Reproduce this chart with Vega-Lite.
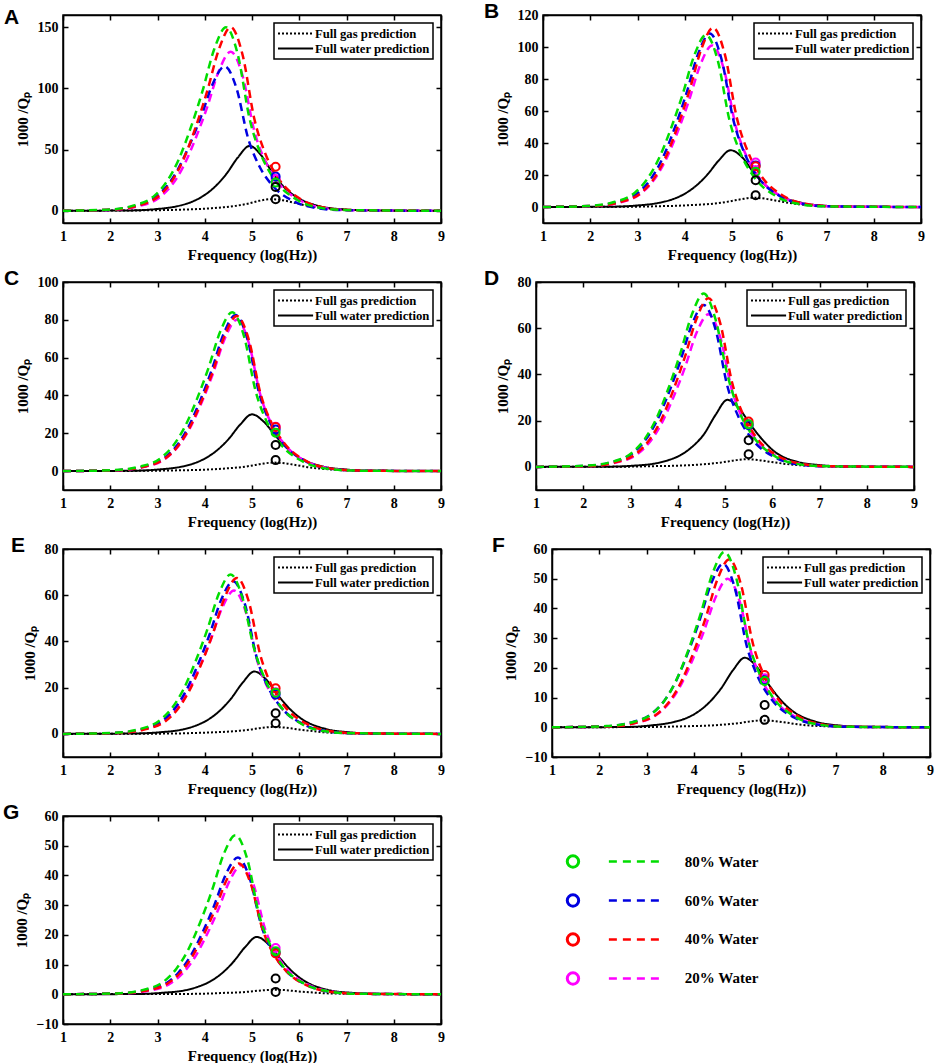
{
  "$schema": "https://vega.github.io/schema/vega-lite/v6.json",
  "background": "white",
  "padding": {"left": 2, "top": 0, "right": 4, "bottom": 0},
  "config": {
    "view": {"stroke": "black", "strokeWidth": 1.5},
    "axis": {"grid": false, "domainColor": "black", "domainWidth": 1.5, "tickColor": "black", "tickWidth": 1.5, "tickSize": -5, "labelFlush": false, "labelFont": "Liberation Serif", "labelFontWeight": "bold", "labelFontSize": 14, "labelColor": "black", "titleFont": "Liberation Serif", "titleFontWeight": "bold", "titleFontSize": 15, "titleColor": "black"},
    "axisX": {"labelPadding": 11, "titlePadding": 4},
    "axisY": {"labelPadding": 10, "titlePadding": 7},
    "legend": {"orient": "top-right", "offset": 8, "symbolStrokeColor": "black", "symbolStrokeWidth": 2, "symbolSize": 169, "labelFont": "Liberation Serif", "labelFontWeight": "bold", "labelFontSize": 12.7, "labelColor": "black", "labelOffset": 23, "labelLimit": 300, "strokeColor": "black", "strokeWidth": 1.5, "fillColor": "white", "padding": 3, "rowPadding": 0},
    "title": {"font": "Liberation Sans", "fontSize": 21, "fontWeight": "bold", "color": "black", "anchor": "start", "frame": "bounds", "offset": -10, "dy": 4, "dx": -11}
  },
  "datasets": {
    "curves": [
      {"p":"A","s":"gas","x":1,"y":0},{"p":"A","s":"gas","x":2.9,"y":0.4},{"p":"A","s":"gas","x":3.4,"y":0.8},{"p":"A","s":"gas","x":3.9,"y":1.5},{"p":"A","s":"gas","x":4.15,"y":2.1},{"p":"A","s":"gas","x":4.4,"y":2.9},{"p":"A","s":"gas","x":4.65,"y":4},{"p":"A","s":"gas","x":4.9,"y":5.7},{"p":"A","s":"gas","x":5.15,"y":8.1},{"p":"A","s":"gas","x":5.4,"y":9.5},{"p":"A","s":"gas","x":5.65,"y":8.6},{"p":"A","s":"gas","x":5.9,"y":6.5},{"p":"A","s":"gas","x":6.15,"y":4.3},{"p":"A","s":"gas","x":6.4,"y":2.7},{"p":"A","s":"gas","x":6.9,"y":1},{"p":"A","s":"gas","x":7.4,"y":0.4},{"p":"A","s":"gas","x":7.9,"y":0.1},{"p":"A","s":"gas","x":9,"y":0},
      {"p":"A","s":"water","x":1,"y":0},{"p":"A","s":"water","x":2.45,"y":0.3},{"p":"A","s":"water","x":2.95,"y":1.3},{"p":"A","s":"water","x":3.45,"y":4},{"p":"A","s":"water","x":3.7,"y":6.9},{"p":"A","s":"water","x":3.95,"y":11.7},{"p":"A","s":"water","x":4.2,"y":19.1},{"p":"A","s":"water","x":4.45,"y":29.7},{"p":"A","s":"water","x":4.7,"y":43.5},{"p":"A","s":"water","x":4.95,"y":53},{"p":"A","s":"water","x":5.2,"y":45},{"p":"A","s":"water","x":5.45,"y":30},{"p":"A","s":"water","x":5.7,"y":18.5},{"p":"A","s":"water","x":5.95,"y":11},{"p":"A","s":"water","x":6.45,"y":3.6},{"p":"A","s":"water","x":6.95,"y":1.1},{"p":"A","s":"water","x":7.45,"y":0.4},{"p":"A","s":"water","x":9,"y":0},
      {"p":"A","s":"20","x":1,"y":0},{"p":"A","s":"20","x":2.05,"y":0.8},{"p":"A","s":"20","x":2.55,"y":3.3},{"p":"A","s":"20","x":3.05,"y":11.1},{"p":"A","s":"20","x":3.3,"y":20.8},{"p":"A","s":"20","x":3.55,"y":36.4},{"p":"A","s":"20","x":3.8,"y":58.5},{"p":"A","s":"20","x":4.05,"y":84.5},{"p":"A","s":"20","x":4.3,"y":114.4},{"p":"A","s":"20","x":4.55,"y":130},{"p":"A","s":"20","x":4.8,"y":110.5},{"p":"A","s":"20","x":5.05,"y":65},{"p":"A","s":"20","x":5.3,"y":39},{"p":"A","s":"20","x":5.55,"y":23.4},{"p":"A","s":"20","x":6.05,"y":7.8},{"p":"A","s":"20","x":6.55,"y":2.1},{"p":"A","s":"20","x":7.05,"y":0.5},{"p":"A","s":"20","x":9,"y":0},
      {"p":"A","s":"60","x":1,"y":0},{"p":"A","s":"60","x":1.92,"y":0.7},{"p":"A","s":"60","x":2.42,"y":3},{"p":"A","s":"60","x":2.92,"y":10},{"p":"A","s":"60","x":3.17,"y":18.9},{"p":"A","s":"60","x":3.42,"y":33},{"p":"A","s":"60","x":3.67,"y":53.1},{"p":"A","s":"60","x":3.92,"y":76.7},{"p":"A","s":"60","x":4.17,"y":103.8},{"p":"A","s":"60","x":4.42,"y":118},{"p":"A","s":"60","x":4.67,"y":100.3},{"p":"A","s":"60","x":4.92,"y":59},{"p":"A","s":"60","x":5.17,"y":35.4},{"p":"A","s":"60","x":5.42,"y":21.2},{"p":"A","s":"60","x":5.92,"y":7.1},{"p":"A","s":"60","x":6.42,"y":1.9},{"p":"A","s":"60","x":6.92,"y":0.5},{"p":"A","s":"60","x":9,"y":0},
      {"p":"A","s":"40","x":1,"y":0},{"p":"A","s":"40","x":2.05,"y":0.9},{"p":"A","s":"40","x":2.55,"y":3.8},{"p":"A","s":"40","x":3.05,"y":12.8},{"p":"A","s":"40","x":3.3,"y":24},{"p":"A","s":"40","x":3.55,"y":42},{"p":"A","s":"40","x":3.8,"y":67.5},{"p":"A","s":"40","x":4.05,"y":97.5},{"p":"A","s":"40","x":4.3,"y":132},{"p":"A","s":"40","x":4.55,"y":150},{"p":"A","s":"40","x":4.8,"y":127.5},{"p":"A","s":"40","x":5.05,"y":75},{"p":"A","s":"40","x":5.3,"y":45},{"p":"A","s":"40","x":5.55,"y":27},{"p":"A","s":"40","x":6.05,"y":9},{"p":"A","s":"40","x":6.55,"y":2.4},{"p":"A","s":"40","x":7.05,"y":0.6},{"p":"A","s":"40","x":9,"y":0},
      {"p":"A","s":"80","x":1,"y":0},{"p":"A","s":"80","x":1.95,"y":0.9},{"p":"A","s":"80","x":2.45,"y":3.8},{"p":"A","s":"80","x":2.95,"y":12.8},{"p":"A","s":"80","x":3.2,"y":24},{"p":"A","s":"80","x":3.45,"y":42},{"p":"A","s":"80","x":3.7,"y":67.5},{"p":"A","s":"80","x":3.95,"y":97.5},{"p":"A","s":"80","x":4.2,"y":132},{"p":"A","s":"80","x":4.45,"y":150},{"p":"A","s":"80","x":4.7,"y":127.5},{"p":"A","s":"80","x":4.95,"y":75},{"p":"A","s":"80","x":5.2,"y":45},{"p":"A","s":"80","x":5.45,"y":27},{"p":"A","s":"80","x":5.95,"y":9},{"p":"A","s":"80","x":6.45,"y":2.4},{"p":"A","s":"80","x":6.95,"y":0.6},{"p":"A","s":"80","x":9,"y":0},

      {"p":"B","s":"gas","x":1,"y":0},{"p":"B","s":"gas","x":2.95,"y":0.2},{"p":"B","s":"gas","x":3.45,"y":0.5},{"p":"B","s":"gas","x":3.95,"y":0.9},{"p":"B","s":"gas","x":4.2,"y":1.3},{"p":"B","s":"gas","x":4.45,"y":1.7},{"p":"B","s":"gas","x":4.7,"y":2.4},{"p":"B","s":"gas","x":4.95,"y":3.5},{"p":"B","s":"gas","x":5.2,"y":4.9},{"p":"B","s":"gas","x":5.45,"y":5.8},{"p":"B","s":"gas","x":5.7,"y":5.2},{"p":"B","s":"gas","x":5.95,"y":3.9},{"p":"B","s":"gas","x":6.2,"y":2.6},{"p":"B","s":"gas","x":6.45,"y":1.6},{"p":"B","s":"gas","x":6.95,"y":0.6},{"p":"B","s":"gas","x":7.45,"y":0.2},{"p":"B","s":"gas","x":7.95,"y":0.1},{"p":"B","s":"gas","x":9,"y":0},
      {"p":"B","s":"water","x":1,"y":0},{"p":"B","s":"water","x":2.47,"y":0.2},{"p":"B","s":"water","x":2.97,"y":0.9},{"p":"B","s":"water","x":3.47,"y":2.7},{"p":"B","s":"water","x":3.72,"y":4.6},{"p":"B","s":"water","x":3.97,"y":7.8},{"p":"B","s":"water","x":4.22,"y":12.8},{"p":"B","s":"water","x":4.47,"y":19.9},{"p":"B","s":"water","x":4.72,"y":29.1},{"p":"B","s":"water","x":4.97,"y":35.5},{"p":"B","s":"water","x":5.22,"y":30.9},{"p":"B","s":"water","x":5.47,"y":21},{"p":"B","s":"water","x":5.72,"y":13.2},{"p":"B","s":"water","x":5.97,"y":7.8},{"p":"B","s":"water","x":6.47,"y":2.6},{"p":"B","s":"water","x":6.97,"y":0.8},{"p":"B","s":"water","x":7.47,"y":0.3},{"p":"B","s":"water","x":9,"y":0},
      {"p":"B","s":"20","x":1,"y":0},{"p":"B","s":"20","x":2.08,"y":0.6},{"p":"B","s":"20","x":2.58,"y":2.5},{"p":"B","s":"20","x":3.08,"y":8.6},{"p":"B","s":"20","x":3.33,"y":16.2},{"p":"B","s":"20","x":3.58,"y":28.3},{"p":"B","s":"20","x":3.83,"y":45.5},{"p":"B","s":"20","x":4.08,"y":65.7},{"p":"B","s":"20","x":4.33,"y":88.9},{"p":"B","s":"20","x":4.58,"y":101},{"p":"B","s":"20","x":4.83,"y":85.9},{"p":"B","s":"20","x":5.08,"y":50.5},{"p":"B","s":"20","x":5.33,"y":30.3},{"p":"B","s":"20","x":5.58,"y":18.2},{"p":"B","s":"20","x":6.08,"y":6.1},{"p":"B","s":"20","x":6.58,"y":1.6},{"p":"B","s":"20","x":7.08,"y":0.4},{"p":"B","s":"20","x":9,"y":0},
      {"p":"B","s":"60","x":1,"y":0},{"p":"B","s":"60","x":2.03,"y":0.7},{"p":"B","s":"60","x":2.53,"y":2.7},{"p":"B","s":"60","x":3.03,"y":9.2},{"p":"B","s":"60","x":3.28,"y":17.4},{"p":"B","s":"60","x":3.53,"y":30.4},{"p":"B","s":"60","x":3.78,"y":48.8},{"p":"B","s":"60","x":4.03,"y":70.5},{"p":"B","s":"60","x":4.28,"y":95.5},{"p":"B","s":"60","x":4.53,"y":108.5},{"p":"B","s":"60","x":4.78,"y":92.2},{"p":"B","s":"60","x":5.03,"y":54.3},{"p":"B","s":"60","x":5.28,"y":32.6},{"p":"B","s":"60","x":5.53,"y":19.5},{"p":"B","s":"60","x":6.03,"y":6.5},{"p":"B","s":"60","x":6.53,"y":1.7},{"p":"B","s":"60","x":7.03,"y":0.4},{"p":"B","s":"60","x":9,"y":0},
      {"p":"B","s":"40","x":1,"y":0},{"p":"B","s":"40","x":2.1,"y":0.7},{"p":"B","s":"40","x":2.6,"y":2.8},{"p":"B","s":"40","x":3.1,"y":9.5},{"p":"B","s":"40","x":3.35,"y":17.9},{"p":"B","s":"40","x":3.6,"y":31.4},{"p":"B","s":"40","x":3.85,"y":50.4},{"p":"B","s":"40","x":4.1,"y":72.8},{"p":"B","s":"40","x":4.35,"y":98.6},{"p":"B","s":"40","x":4.6,"y":112},{"p":"B","s":"40","x":4.85,"y":95.2},{"p":"B","s":"40","x":5.1,"y":56},{"p":"B","s":"40","x":5.35,"y":33.6},{"p":"B","s":"40","x":5.6,"y":20.2},{"p":"B","s":"40","x":6.1,"y":6.7},{"p":"B","s":"40","x":6.6,"y":1.8},{"p":"B","s":"40","x":7.1,"y":0.4},{"p":"B","s":"40","x":9,"y":0},
      {"p":"B","s":"80","x":1,"y":0},{"p":"B","s":"80","x":1.95,"y":0.6},{"p":"B","s":"80","x":2.45,"y":2.7},{"p":"B","s":"80","x":2.95,"y":9.1},{"p":"B","s":"80","x":3.2,"y":17.2},{"p":"B","s":"80","x":3.45,"y":30.1},{"p":"B","s":"80","x":3.7,"y":48.4},{"p":"B","s":"80","x":3.95,"y":69.9},{"p":"B","s":"80","x":4.2,"y":94.6},{"p":"B","s":"80","x":4.45,"y":107.5},{"p":"B","s":"80","x":4.7,"y":91.4},{"p":"B","s":"80","x":4.95,"y":53.8},{"p":"B","s":"80","x":5.2,"y":32.3},{"p":"B","s":"80","x":5.45,"y":19.4},{"p":"B","s":"80","x":5.95,"y":6.5},{"p":"B","s":"80","x":6.45,"y":1.7},{"p":"B","s":"80","x":6.95,"y":0.4},{"p":"B","s":"80","x":9,"y":0},

      {"p":"C","s":"gas","x":1,"y":0},{"p":"C","s":"gas","x":2.95,"y":0.2},{"p":"C","s":"gas","x":3.45,"y":0.4},{"p":"C","s":"gas","x":3.95,"y":0.7},{"p":"C","s":"gas","x":4.2,"y":1},{"p":"C","s":"gas","x":4.45,"y":1.4},{"p":"C","s":"gas","x":4.7,"y":1.9},{"p":"C","s":"gas","x":4.95,"y":2.7},{"p":"C","s":"gas","x":5.2,"y":3.8},{"p":"C","s":"gas","x":5.45,"y":4.5},{"p":"C","s":"gas","x":5.7,"y":4.1},{"p":"C","s":"gas","x":5.95,"y":3.1},{"p":"C","s":"gas","x":6.2,"y":2},{"p":"C","s":"gas","x":6.45,"y":1.3},{"p":"C","s":"gas","x":6.95,"y":0.5},{"p":"C","s":"gas","x":7.45,"y":0.2},{"p":"C","s":"gas","x":7.95,"y":0.1},{"p":"C","s":"gas","x":9,"y":0},
      {"p":"C","s":"water","x":1,"y":0},{"p":"C","s":"water","x":2.5,"y":0.2},{"p":"C","s":"water","x":3,"y":0.8},{"p":"C","s":"water","x":3.5,"y":2.3},{"p":"C","s":"water","x":3.75,"y":3.9},{"p":"C","s":"water","x":4,"y":6.6},{"p":"C","s":"water","x":4.25,"y":10.8},{"p":"C","s":"water","x":4.5,"y":16.8},{"p":"C","s":"water","x":4.75,"y":24.6},{"p":"C","s":"water","x":5,"y":30},{"p":"C","s":"water","x":5.25,"y":26.1},{"p":"C","s":"water","x":5.5,"y":18.6},{"p":"C","s":"water","x":5.75,"y":12},{"p":"C","s":"water","x":6,"y":7.2},{"p":"C","s":"water","x":6.5,"y":2.4},{"p":"C","s":"water","x":7,"y":0.8},{"p":"C","s":"water","x":7.5,"y":0.2},{"p":"C","s":"water","x":9,"y":0},
      {"p":"C","s":"20","x":1,"y":0},{"p":"C","s":"20","x":2.18,"y":0.5},{"p":"C","s":"20","x":2.68,"y":2},{"p":"C","s":"20","x":3.18,"y":6.8},{"p":"C","s":"20","x":3.43,"y":12.8},{"p":"C","s":"20","x":3.68,"y":22.4},{"p":"C","s":"20","x":3.93,"y":36},{"p":"C","s":"20","x":4.18,"y":52},{"p":"C","s":"20","x":4.43,"y":70.4},{"p":"C","s":"20","x":4.68,"y":80},{"p":"C","s":"20","x":4.93,"y":68},{"p":"C","s":"20","x":5.18,"y":40},{"p":"C","s":"20","x":5.43,"y":24},{"p":"C","s":"20","x":5.68,"y":14.4},{"p":"C","s":"20","x":6.18,"y":4.8},{"p":"C","s":"20","x":6.68,"y":1.3},{"p":"C","s":"20","x":7.18,"y":0.3},{"p":"C","s":"20","x":9,"y":0},
      {"p":"C","s":"60","x":1,"y":0},{"p":"C","s":"60","x":2.15,"y":0.5},{"p":"C","s":"60","x":2.65,"y":2.1},{"p":"C","s":"60","x":3.15,"y":7},{"p":"C","s":"60","x":3.4,"y":13.2},{"p":"C","s":"60","x":3.65,"y":23.1},{"p":"C","s":"60","x":3.9,"y":37.1},{"p":"C","s":"60","x":4.15,"y":53.6},{"p":"C","s":"60","x":4.4,"y":72.6},{"p":"C","s":"60","x":4.65,"y":82.5},{"p":"C","s":"60","x":4.9,"y":70.1},{"p":"C","s":"60","x":5.15,"y":41.3},{"p":"C","s":"60","x":5.4,"y":24.8},{"p":"C","s":"60","x":5.65,"y":14.9},{"p":"C","s":"60","x":6.15,"y":5},{"p":"C","s":"60","x":6.65,"y":1.3},{"p":"C","s":"60","x":7.15,"y":0.3},{"p":"C","s":"60","x":9,"y":0},
      {"p":"C","s":"40","x":1,"y":0},{"p":"C","s":"40","x":2.18,"y":0.5},{"p":"C","s":"40","x":2.68,"y":2.1},{"p":"C","s":"40","x":3.18,"y":7},{"p":"C","s":"40","x":3.43,"y":13.1},{"p":"C","s":"40","x":3.68,"y":23},{"p":"C","s":"40","x":3.93,"y":36.9},{"p":"C","s":"40","x":4.18,"y":53.3},{"p":"C","s":"40","x":4.43,"y":72.2},{"p":"C","s":"40","x":4.68,"y":82},{"p":"C","s":"40","x":4.93,"y":69.7},{"p":"C","s":"40","x":5.18,"y":41},{"p":"C","s":"40","x":5.43,"y":24.6},{"p":"C","s":"40","x":5.68,"y":14.8},{"p":"C","s":"40","x":6.18,"y":4.9},{"p":"C","s":"40","x":6.68,"y":1.3},{"p":"C","s":"40","x":7.18,"y":0.3},{"p":"C","s":"40","x":9,"y":0},
      {"p":"C","s":"80","x":1,"y":0},{"p":"C","s":"80","x":2.08,"y":0.5},{"p":"C","s":"80","x":2.58,"y":2.1},{"p":"C","s":"80","x":3.08,"y":7.1},{"p":"C","s":"80","x":3.33,"y":13.4},{"p":"C","s":"80","x":3.58,"y":23.5},{"p":"C","s":"80","x":3.83,"y":37.8},{"p":"C","s":"80","x":4.08,"y":54.6},{"p":"C","s":"80","x":4.33,"y":73.9},{"p":"C","s":"80","x":4.58,"y":84},{"p":"C","s":"80","x":4.83,"y":71.4},{"p":"C","s":"80","x":5.08,"y":42},{"p":"C","s":"80","x":5.33,"y":25.2},{"p":"C","s":"80","x":5.58,"y":15.1},{"p":"C","s":"80","x":6.08,"y":5},{"p":"C","s":"80","x":6.58,"y":1.3},{"p":"C","s":"80","x":7.08,"y":0.3},{"p":"C","s":"80","x":9,"y":0},

      {"p":"D","s":"gas","x":1,"y":0},{"p":"D","s":"gas","x":2.95,"y":0.1},{"p":"D","s":"gas","x":3.45,"y":0.3},{"p":"D","s":"gas","x":3.95,"y":0.5},{"p":"D","s":"gas","x":4.2,"y":0.7},{"p":"D","s":"gas","x":4.45,"y":1},{"p":"D","s":"gas","x":4.7,"y":1.4},{"p":"D","s":"gas","x":4.95,"y":2},{"p":"D","s":"gas","x":5.2,"y":2.8},{"p":"D","s":"gas","x":5.45,"y":3.3},{"p":"D","s":"gas","x":5.7,"y":3},{"p":"D","s":"gas","x":5.95,"y":2.2},{"p":"D","s":"gas","x":6.2,"y":1.5},{"p":"D","s":"gas","x":6.45,"y":0.9},{"p":"D","s":"gas","x":6.95,"y":0.4},{"p":"D","s":"gas","x":7.45,"y":0.1},{"p":"D","s":"gas","x":7.95,"y":0},{"p":"D","s":"gas","x":9,"y":0},
      {"p":"D","s":"water","x":1,"y":0},{"p":"D","s":"water","x":2.55,"y":0.1},{"p":"D","s":"water","x":3.05,"y":0.5},{"p":"D","s":"water","x":3.55,"y":1.6},{"p":"D","s":"water","x":3.8,"y":2.9},{"p":"D","s":"water","x":4.05,"y":5},{"p":"D","s":"water","x":4.3,"y":8.6},{"p":"D","s":"water","x":4.55,"y":14},{"p":"D","s":"water","x":4.8,"y":22.5},{"p":"D","s":"water","x":5.05,"y":29},{"p":"D","s":"water","x":5.3,"y":25.2},{"p":"D","s":"water","x":5.55,"y":18},{"p":"D","s":"water","x":5.8,"y":11.6},{"p":"D","s":"water","x":6.05,"y":6.6},{"p":"D","s":"water","x":6.55,"y":2.1},{"p":"D","s":"water","x":7.05,"y":0.7},{"p":"D","s":"water","x":7.55,"y":0.2},{"p":"D","s":"water","x":9,"y":0},
      {"p":"D","s":"20","x":1,"y":0},{"p":"D","s":"20","x":2.15,"y":0.4},{"p":"D","s":"20","x":2.65,"y":1.7},{"p":"D","s":"20","x":3.15,"y":5.6},{"p":"D","s":"20","x":3.4,"y":10.6},{"p":"D","s":"20","x":3.65,"y":18.5},{"p":"D","s":"20","x":3.9,"y":29.7},{"p":"D","s":"20","x":4.15,"y":42.9},{"p":"D","s":"20","x":4.4,"y":58.1},{"p":"D","s":"20","x":4.65,"y":66},{"p":"D","s":"20","x":4.9,"y":56.1},{"p":"D","s":"20","x":5.15,"y":33},{"p":"D","s":"20","x":5.4,"y":19.8},{"p":"D","s":"20","x":5.65,"y":11.9},{"p":"D","s":"20","x":6.15,"y":4},{"p":"D","s":"20","x":6.65,"y":1.1},{"p":"D","s":"20","x":7.15,"y":0.3},{"p":"D","s":"20","x":9,"y":0},
      {"p":"D","s":"60","x":1,"y":0},{"p":"D","s":"60","x":2.05,"y":0.4},{"p":"D","s":"60","x":2.55,"y":1.8},{"p":"D","s":"60","x":3.05,"y":6},{"p":"D","s":"60","x":3.3,"y":11.2},{"p":"D","s":"60","x":3.55,"y":19.6},{"p":"D","s":"60","x":3.8,"y":31.5},{"p":"D","s":"60","x":4.05,"y":45.5},{"p":"D","s":"60","x":4.3,"y":61.6},{"p":"D","s":"60","x":4.55,"y":70},{"p":"D","s":"60","x":4.8,"y":59.5},{"p":"D","s":"60","x":5.05,"y":35},{"p":"D","s":"60","x":5.3,"y":21},{"p":"D","s":"60","x":5.55,"y":12.6},{"p":"D","s":"60","x":6.05,"y":4.2},{"p":"D","s":"60","x":6.55,"y":1.1},{"p":"D","s":"60","x":7.05,"y":0.3},{"p":"D","s":"60","x":9,"y":0},
      {"p":"D","s":"40","x":1,"y":0},{"p":"D","s":"40","x":2.15,"y":0.4},{"p":"D","s":"40","x":2.65,"y":1.8},{"p":"D","s":"40","x":3.15,"y":6.2},{"p":"D","s":"40","x":3.4,"y":11.7},{"p":"D","s":"40","x":3.65,"y":20.4},{"p":"D","s":"40","x":3.9,"y":32.9},{"p":"D","s":"40","x":4.15,"y":47.5},{"p":"D","s":"40","x":4.4,"y":64.2},{"p":"D","s":"40","x":4.65,"y":73},{"p":"D","s":"40","x":4.9,"y":62.1},{"p":"D","s":"40","x":5.15,"y":36.5},{"p":"D","s":"40","x":5.4,"y":21.9},{"p":"D","s":"40","x":5.65,"y":13.1},{"p":"D","s":"40","x":6.15,"y":4.4},{"p":"D","s":"40","x":6.65,"y":1.2},{"p":"D","s":"40","x":7.15,"y":0.3},{"p":"D","s":"40","x":9,"y":0},
      {"p":"D","s":"80","x":1,"y":0},{"p":"D","s":"80","x":2.05,"y":0.5},{"p":"D","s":"80","x":2.55,"y":1.9},{"p":"D","s":"80","x":3.05,"y":6.4},{"p":"D","s":"80","x":3.3,"y":12},{"p":"D","s":"80","x":3.55,"y":21},{"p":"D","s":"80","x":3.8,"y":33.8},{"p":"D","s":"80","x":4.05,"y":48.8},{"p":"D","s":"80","x":4.3,"y":66},{"p":"D","s":"80","x":4.55,"y":75},{"p":"D","s":"80","x":4.8,"y":63.8},{"p":"D","s":"80","x":5.05,"y":40},{"p":"D","s":"80","x":5.3,"y":24},{"p":"D","s":"80","x":5.55,"y":14.5},{"p":"D","s":"80","x":6.05,"y":4.7},{"p":"D","s":"80","x":6.55,"y":1.2},{"p":"D","s":"80","x":7.05,"y":0.3},{"p":"D","s":"80","x":9,"y":0},

      {"p":"E","s":"gas","x":1,"y":0},{"p":"E","s":"gas","x":2.95,"y":0.1},{"p":"E","s":"gas","x":3.45,"y":0.2},{"p":"E","s":"gas","x":3.95,"y":0.5},{"p":"E","s":"gas","x":4.2,"y":0.7},{"p":"E","s":"gas","x":4.45,"y":0.9},{"p":"E","s":"gas","x":4.7,"y":1.3},{"p":"E","s":"gas","x":4.95,"y":1.8},{"p":"E","s":"gas","x":5.2,"y":2.6},{"p":"E","s":"gas","x":5.45,"y":3},{"p":"E","s":"gas","x":5.7,"y":2.7},{"p":"E","s":"gas","x":5.95,"y":2},{"p":"E","s":"gas","x":6.2,"y":1.4},{"p":"E","s":"gas","x":6.45,"y":0.8},{"p":"E","s":"gas","x":6.95,"y":0.3},{"p":"E","s":"gas","x":7.45,"y":0.1},{"p":"E","s":"gas","x":7.95,"y":0},{"p":"E","s":"gas","x":9,"y":0},
      {"p":"E","s":"water","x":1,"y":0},{"p":"E","s":"water","x":2.55,"y":0.2},{"p":"E","s":"water","x":3.05,"y":0.7},{"p":"E","s":"water","x":3.55,"y":2},{"p":"E","s":"water","x":3.8,"y":3.5},{"p":"E","s":"water","x":4.05,"y":5.9},{"p":"E","s":"water","x":4.3,"y":9.7},{"p":"E","s":"water","x":4.55,"y":15.1},{"p":"E","s":"water","x":4.8,"y":22.1},{"p":"E","s":"water","x":5.05,"y":27},{"p":"E","s":"water","x":5.3,"y":23.5},{"p":"E","s":"water","x":5.55,"y":16.7},{"p":"E","s":"water","x":5.8,"y":10.8},{"p":"E","s":"water","x":6.05,"y":6.5},{"p":"E","s":"water","x":6.55,"y":2.2},{"p":"E","s":"water","x":7.05,"y":0.7},{"p":"E","s":"water","x":7.55,"y":0.2},{"p":"E","s":"water","x":9,"y":0},
      {"p":"E","s":"20","x":1,"y":0},{"p":"E","s":"20","x":2.12,"y":0.4},{"p":"E","s":"20","x":2.62,"y":1.6},{"p":"E","s":"20","x":3.12,"y":5.3},{"p":"E","s":"20","x":3.37,"y":9.9},{"p":"E","s":"20","x":3.62,"y":17.4},{"p":"E","s":"20","x":3.87,"y":27.9},{"p":"E","s":"20","x":4.12,"y":40.3},{"p":"E","s":"20","x":4.37,"y":54.6},{"p":"E","s":"20","x":4.62,"y":62},{"p":"E","s":"20","x":4.87,"y":52.7},{"p":"E","s":"20","x":5.12,"y":31},{"p":"E","s":"20","x":5.37,"y":18.6},{"p":"E","s":"20","x":5.62,"y":11.2},{"p":"E","s":"20","x":6.12,"y":3.7},{"p":"E","s":"20","x":6.62,"y":1},{"p":"E","s":"20","x":7.12,"y":0.2},{"p":"E","s":"20","x":9,"y":0},
      {"p":"E","s":"60","x":1,"y":0},{"p":"E","s":"60","x":2.1,"y":0.4},{"p":"E","s":"60","x":2.6,"y":1.7},{"p":"E","s":"60","x":3.1,"y":5.6},{"p":"E","s":"60","x":3.35,"y":10.6},{"p":"E","s":"60","x":3.6,"y":18.5},{"p":"E","s":"60","x":3.85,"y":29.7},{"p":"E","s":"60","x":4.1,"y":42.9},{"p":"E","s":"60","x":4.35,"y":58.1},{"p":"E","s":"60","x":4.6,"y":66},{"p":"E","s":"60","x":4.85,"y":56.1},{"p":"E","s":"60","x":5.1,"y":33},{"p":"E","s":"60","x":5.35,"y":19.8},{"p":"E","s":"60","x":5.6,"y":11.9},{"p":"E","s":"60","x":6.1,"y":4},{"p":"E","s":"60","x":6.6,"y":1.1},{"p":"E","s":"60","x":7.1,"y":0.3},{"p":"E","s":"60","x":9,"y":0},
      {"p":"E","s":"40","x":1,"y":0},{"p":"E","s":"40","x":2.18,"y":0.4},{"p":"E","s":"40","x":2.68,"y":1.7},{"p":"E","s":"40","x":3.18,"y":5.7},{"p":"E","s":"40","x":3.43,"y":10.8},{"p":"E","s":"40","x":3.68,"y":18.9},{"p":"E","s":"40","x":3.93,"y":30.4},{"p":"E","s":"40","x":4.18,"y":43.9},{"p":"E","s":"40","x":4.43,"y":59.4},{"p":"E","s":"40","x":4.68,"y":67.5},{"p":"E","s":"40","x":4.93,"y":57.4},{"p":"E","s":"40","x":5.18,"y":33.8},{"p":"E","s":"40","x":5.43,"y":20.3},{"p":"E","s":"40","x":5.68,"y":12.2},{"p":"E","s":"40","x":6.18,"y":4.1},{"p":"E","s":"40","x":6.68,"y":1.1},{"p":"E","s":"40","x":7.18,"y":0.3},{"p":"E","s":"40","x":9,"y":0},
      {"p":"E","s":"80","x":1,"y":0},{"p":"E","s":"80","x":2.05,"y":0.4},{"p":"E","s":"80","x":2.55,"y":1.7},{"p":"E","s":"80","x":3.05,"y":5.9},{"p":"E","s":"80","x":3.3,"y":11},{"p":"E","s":"80","x":3.55,"y":19.3},{"p":"E","s":"80","x":3.8,"y":31.1},{"p":"E","s":"80","x":4.05,"y":44.9},{"p":"E","s":"80","x":4.3,"y":60.7},{"p":"E","s":"80","x":4.55,"y":69},{"p":"E","s":"80","x":4.8,"y":58.7},{"p":"E","s":"80","x":5.05,"y":36.5},{"p":"E","s":"80","x":5.3,"y":22.5},{"p":"E","s":"80","x":5.55,"y":13.4},{"p":"E","s":"80","x":6.05,"y":4.3},{"p":"E","s":"80","x":6.55,"y":1.1},{"p":"E","s":"80","x":7.05,"y":0.3},{"p":"E","s":"80","x":9,"y":0},

      {"p":"F","s":"gas","x":1,"y":0},{"p":"F","s":"gas","x":2.95,"y":0.1},{"p":"F","s":"gas","x":3.45,"y":0.2},{"p":"F","s":"gas","x":3.95,"y":0.4},{"p":"F","s":"gas","x":4.2,"y":0.5},{"p":"F","s":"gas","x":4.45,"y":0.7},{"p":"F","s":"gas","x":4.7,"y":1},{"p":"F","s":"gas","x":4.95,"y":1.4},{"p":"F","s":"gas","x":5.2,"y":2},{"p":"F","s":"gas","x":5.45,"y":2.3},{"p":"F","s":"gas","x":5.7,"y":2.1},{"p":"F","s":"gas","x":5.95,"y":1.6},{"p":"F","s":"gas","x":6.2,"y":1},{"p":"F","s":"gas","x":6.45,"y":0.6},{"p":"F","s":"gas","x":6.95,"y":0.3},{"p":"F","s":"gas","x":7.45,"y":0.1},{"p":"F","s":"gas","x":7.95,"y":0},{"p":"F","s":"gas","x":9,"y":0},
      {"p":"F","s":"water","x":1,"y":0},{"p":"F","s":"water","x":2.58,"y":0.1},{"p":"F","s":"water","x":3.08,"y":0.6},{"p":"F","s":"water","x":3.58,"y":1.8},{"p":"F","s":"water","x":3.83,"y":3},{"p":"F","s":"water","x":4.08,"y":5.1},{"p":"F","s":"water","x":4.33,"y":8.4},{"p":"F","s":"water","x":4.58,"y":13.1},{"p":"F","s":"water","x":4.83,"y":19.2},{"p":"F","s":"water","x":5.08,"y":23.4},{"p":"F","s":"water","x":5.33,"y":20.4},{"p":"F","s":"water","x":5.58,"y":14.5},{"p":"F","s":"water","x":5.83,"y":9.4},{"p":"F","s":"water","x":6.08,"y":5.6},{"p":"F","s":"water","x":6.58,"y":1.9},{"p":"F","s":"water","x":7.08,"y":0.6},{"p":"F","s":"water","x":7.58,"y":0.2},{"p":"F","s":"water","x":9,"y":0},
      {"p":"F","s":"20","x":1,"y":0},{"p":"F","s":"20","x":2.22,"y":0.3},{"p":"F","s":"20","x":2.72,"y":1.3},{"p":"F","s":"20","x":3.22,"y":4.3},{"p":"F","s":"20","x":3.47,"y":8},{"p":"F","s":"20","x":3.72,"y":14},{"p":"F","s":"20","x":3.97,"y":22.5},{"p":"F","s":"20","x":4.22,"y":32.5},{"p":"F","s":"20","x":4.47,"y":44},{"p":"F","s":"20","x":4.72,"y":50},{"p":"F","s":"20","x":4.97,"y":42.5},{"p":"F","s":"20","x":5.22,"y":25},{"p":"F","s":"20","x":5.47,"y":15},{"p":"F","s":"20","x":5.72,"y":9},{"p":"F","s":"20","x":6.22,"y":3},{"p":"F","s":"20","x":6.72,"y":0.8},{"p":"F","s":"20","x":7.22,"y":0.2},{"p":"F","s":"20","x":9,"y":0},
      {"p":"F","s":"60","x":1,"y":0},{"p":"F","s":"60","x":2.12,"y":0.3},{"p":"F","s":"60","x":2.62,"y":1.4},{"p":"F","s":"60","x":3.12,"y":4.7},{"p":"F","s":"60","x":3.37,"y":8.8},{"p":"F","s":"60","x":3.62,"y":15.4},{"p":"F","s":"60","x":3.87,"y":24.8},{"p":"F","s":"60","x":4.12,"y":35.8},{"p":"F","s":"60","x":4.37,"y":48.4},{"p":"F","s":"60","x":4.62,"y":55},{"p":"F","s":"60","x":4.87,"y":46.8},{"p":"F","s":"60","x":5.12,"y":27.5},{"p":"F","s":"60","x":5.37,"y":16.5},{"p":"F","s":"60","x":5.62,"y":9.9},{"p":"F","s":"60","x":6.12,"y":3.3},{"p":"F","s":"60","x":6.62,"y":0.9},{"p":"F","s":"60","x":7.12,"y":0.2},{"p":"F","s":"60","x":9,"y":0},
      {"p":"F","s":"40","x":1,"y":0},{"p":"F","s":"40","x":2.25,"y":0.3},{"p":"F","s":"40","x":2.75,"y":1.4},{"p":"F","s":"40","x":3.25,"y":4.8},{"p":"F","s":"40","x":3.5,"y":9},{"p":"F","s":"40","x":3.75,"y":15.8},{"p":"F","s":"40","x":4,"y":25.4},{"p":"F","s":"40","x":4.25,"y":36.7},{"p":"F","s":"40","x":4.5,"y":49.7},{"p":"F","s":"40","x":4.75,"y":56.5},{"p":"F","s":"40","x":5,"y":48},{"p":"F","s":"40","x":5.25,"y":28.3},{"p":"F","s":"40","x":5.5,"y":17},{"p":"F","s":"40","x":5.75,"y":10.2},{"p":"F","s":"40","x":6.25,"y":3.4},{"p":"F","s":"40","x":6.75,"y":0.9},{"p":"F","s":"40","x":7.25,"y":0.2},{"p":"F","s":"40","x":9,"y":0},
      {"p":"F","s":"80","x":1,"y":0},{"p":"F","s":"80","x":2.15,"y":0.4},{"p":"F","s":"80","x":2.65,"y":1.5},{"p":"F","s":"80","x":3.15,"y":5},{"p":"F","s":"80","x":3.4,"y":9.4},{"p":"F","s":"80","x":3.65,"y":16.5},{"p":"F","s":"80","x":3.9,"y":26.6},{"p":"F","s":"80","x":4.15,"y":38.4},{"p":"F","s":"80","x":4.4,"y":51.9},{"p":"F","s":"80","x":4.65,"y":59},{"p":"F","s":"80","x":4.9,"y":50.2},{"p":"F","s":"80","x":5.15,"y":29.5},{"p":"F","s":"80","x":5.4,"y":17.7},{"p":"F","s":"80","x":5.65,"y":10.6},{"p":"F","s":"80","x":6.15,"y":3.5},{"p":"F","s":"80","x":6.65,"y":0.9},{"p":"F","s":"80","x":7.15,"y":0.2},{"p":"F","s":"80","x":9,"y":0},

      {"p":"G","s":"gas","x":1,"y":0},{"p":"G","s":"gas","x":2.95,"y":0.1},{"p":"G","s":"gas","x":3.45,"y":0.1},{"p":"G","s":"gas","x":3.95,"y":0.2},{"p":"G","s":"gas","x":4.2,"y":0.3},{"p":"G","s":"gas","x":4.45,"y":0.5},{"p":"G","s":"gas","x":4.7,"y":0.6},{"p":"G","s":"gas","x":4.95,"y":0.9},{"p":"G","s":"gas","x":5.2,"y":1.3},{"p":"G","s":"gas","x":5.45,"y":1.5},{"p":"G","s":"gas","x":5.7,"y":1.4},{"p":"G","s":"gas","x":5.95,"y":1},{"p":"G","s":"gas","x":6.2,"y":0.7},{"p":"G","s":"gas","x":6.45,"y":0.4},{"p":"G","s":"gas","x":6.95,"y":0.2},{"p":"G","s":"gas","x":7.45,"y":0.1},{"p":"G","s":"gas","x":7.95,"y":0},{"p":"G","s":"gas","x":9,"y":0},
      {"p":"G","s":"water","x":1,"y":0},{"p":"G","s":"water","x":2.6,"y":0.1},{"p":"G","s":"water","x":3.1,"y":0.5},{"p":"G","s":"water","x":3.6,"y":1.4},{"p":"G","s":"water","x":3.85,"y":2.5},{"p":"G","s":"water","x":4.1,"y":4.2},{"p":"G","s":"water","x":4.35,"y":6.9},{"p":"G","s":"water","x":4.6,"y":10.8},{"p":"G","s":"water","x":4.85,"y":15.8},{"p":"G","s":"water","x":5.1,"y":19.3},{"p":"G","s":"water","x":5.35,"y":16.8},{"p":"G","s":"water","x":5.6,"y":12},{"p":"G","s":"water","x":5.85,"y":7.7},{"p":"G","s":"water","x":6.1,"y":4.6},{"p":"G","s":"water","x":6.6,"y":1.5},{"p":"G","s":"water","x":7.1,"y":0.5},{"p":"G","s":"water","x":7.6,"y":0.2},{"p":"G","s":"water","x":9,"y":0},
      {"p":"G","s":"20","x":1,"y":0},{"p":"G","s":"20","x":2.28,"y":0.3},{"p":"G","s":"20","x":2.78,"y":1.1},{"p":"G","s":"20","x":3.28,"y":3.7},{"p":"G","s":"20","x":3.53,"y":7},{"p":"G","s":"20","x":3.78,"y":12.2},{"p":"G","s":"20","x":4.03,"y":19.6},{"p":"G","s":"20","x":4.28,"y":28.3},{"p":"G","s":"20","x":4.53,"y":38.3},{"p":"G","s":"20","x":4.78,"y":43.5},{"p":"G","s":"20","x":5.03,"y":37},{"p":"G","s":"20","x":5.28,"y":21.8},{"p":"G","s":"20","x":5.53,"y":13.1},{"p":"G","s":"20","x":5.78,"y":7.8},{"p":"G","s":"20","x":6.28,"y":2.6},{"p":"G","s":"20","x":6.78,"y":0.7},{"p":"G","s":"20","x":7.28,"y":0.2},{"p":"G","s":"20","x":9,"y":0},
      {"p":"G","s":"60","x":1,"y":0},{"p":"G","s":"60","x":2.2,"y":0.3},{"p":"G","s":"60","x":2.7,"y":1.2},{"p":"G","s":"60","x":3.2,"y":3.9},{"p":"G","s":"60","x":3.45,"y":7.4},{"p":"G","s":"60","x":3.7,"y":12.9},{"p":"G","s":"60","x":3.95,"y":20.7},{"p":"G","s":"60","x":4.2,"y":29.9},{"p":"G","s":"60","x":4.45,"y":40.5},{"p":"G","s":"60","x":4.7,"y":46},{"p":"G","s":"60","x":4.95,"y":39.1},{"p":"G","s":"60","x":5.2,"y":23},{"p":"G","s":"60","x":5.45,"y":13.8},{"p":"G","s":"60","x":5.7,"y":8.3},{"p":"G","s":"60","x":6.2,"y":2.8},{"p":"G","s":"60","x":6.7,"y":0.7},{"p":"G","s":"60","x":7.2,"y":0.2},{"p":"G","s":"60","x":9,"y":0},
      {"p":"G","s":"40","x":1,"y":0},{"p":"G","s":"40","x":2.22,"y":0.3},{"p":"G","s":"40","x":2.72,"y":1.1},{"p":"G","s":"40","x":3.22,"y":3.7},{"p":"G","s":"40","x":3.47,"y":7},{"p":"G","s":"40","x":3.72,"y":12.3},{"p":"G","s":"40","x":3.97,"y":19.8},{"p":"G","s":"40","x":4.22,"y":28.6},{"p":"G","s":"40","x":4.47,"y":38.7},{"p":"G","s":"40","x":4.72,"y":44},{"p":"G","s":"40","x":4.97,"y":37.4},{"p":"G","s":"40","x":5.22,"y":22},{"p":"G","s":"40","x":5.47,"y":13.2},{"p":"G","s":"40","x":5.72,"y":7.9},{"p":"G","s":"40","x":6.22,"y":2.6},{"p":"G","s":"40","x":6.72,"y":0.7},{"p":"G","s":"40","x":7.22,"y":0.2},{"p":"G","s":"40","x":9,"y":0},
      {"p":"G","s":"80","x":1,"y":0},{"p":"G","s":"80","x":2.15,"y":0.3},{"p":"G","s":"80","x":2.65,"y":1.3},{"p":"G","s":"80","x":3.15,"y":4.5},{"p":"G","s":"80","x":3.4,"y":8.6},{"p":"G","s":"80","x":3.65,"y":15},{"p":"G","s":"80","x":3.9,"y":24.1},{"p":"G","s":"80","x":4.15,"y":34.8},{"p":"G","s":"80","x":4.4,"y":47.1},{"p":"G","s":"80","x":4.65,"y":53.5},{"p":"G","s":"80","x":4.9,"y":45.5},{"p":"G","s":"80","x":5.15,"y":26.8},{"p":"G","s":"80","x":5.4,"y":16.1},{"p":"G","s":"80","x":5.65,"y":9.6},{"p":"G","s":"80","x":6.15,"y":3.2},{"p":"G","s":"80","x":6.65,"y":0.9},{"p":"G","s":"80","x":7.15,"y":0.2},{"p":"G","s":"80","x":9,"y":0}
    ],
    "obs": [
      {"p":"A","s":"20","x":5.5,"y":26},{"p":"A","s":"60","x":5.5,"y":28},{"p":"A","s":"40","x":5.5,"y":36},{"p":"A","s":"80","x":5.5,"y":23},{"p":"A","s":"water","x":5.5,"y":19.5},{"p":"A","s":"gas","x":5.5,"y":9.5},
      {"p":"B","s":"20","x":5.5,"y":27.8},{"p":"B","s":"60","x":5.5,"y":26},{"p":"B","s":"40","x":5.5,"y":25.5},{"p":"B","s":"80","x":5.5,"y":22},{"p":"B","s":"water","x":5.5,"y":16.7},{"p":"B","s":"gas","x":5.5,"y":7.3},
      {"p":"C","s":"20","x":5.5,"y":23.5},{"p":"C","s":"60","x":5.5,"y":22},{"p":"C","s":"40","x":5.5,"y":23.3},{"p":"C","s":"80","x":5.5,"y":20.3},{"p":"C","s":"water","x":5.5,"y":13.8},{"p":"C","s":"gas","x":5.5,"y":5.8},
      {"p":"D","s":"20","x":5.5,"y":18.5},{"p":"D","s":"60","x":5.5,"y":18},{"p":"D","s":"40","x":5.5,"y":19.6},{"p":"D","s":"80","x":5.5,"y":18.4},{"p":"D","s":"water","x":5.5,"y":11.5},{"p":"D","s":"gas","x":5.5,"y":5.5},
      {"p":"E","s":"20","x":5.5,"y":18},{"p":"E","s":"60","x":5.5,"y":17},{"p":"E","s":"40","x":5.5,"y":19.7},{"p":"E","s":"80","x":5.5,"y":17.8},{"p":"E","s":"water","x":5.5,"y":8.9},{"p":"E","s":"gas","x":5.5,"y":4.6},
      {"p":"F","s":"20","x":5.5,"y":16.5},{"p":"F","s":"60","x":5.5,"y":15.8},{"p":"F","s":"40","x":5.5,"y":17.6},{"p":"F","s":"80","x":5.5,"y":15.6},{"p":"F","s":"water","x":5.5,"y":7.5},{"p":"F","s":"gas","x":5.5,"y":2.5},
      {"p":"G","s":"20","x":5.5,"y":15.6},{"p":"G","s":"60","x":5.5,"y":14},{"p":"G","s":"40","x":5.5,"y":13.7},{"p":"G","s":"80","x":5.5,"y":14.5},{"p":"G","s":"water","x":5.5,"y":5.3},{"p":"G","s":"gas","x":5.5,"y":0.8}
    ],
    "key": [
      {"s":"80","label":"80% Water"},{"s":"60","label":"60% Water"},{"s":"40","label":"40% Water"},{"s":"20","label":"20% Water"}
    ]
  },
  "resolve": {"scale": {"strokeDash": "independent"}, "legend": {"strokeDash": "independent"}},
  "spacing": 4,
  "vconcat": [
    {
      "spacing": 36,
      "resolve": {"scale": {"strokeDash": "independent"}, "legend": {"strokeDash": "independent"}},
      "hconcat": [
        {
          "width": 378, "height": 208, "title": {"text": "A"},
          "resolve": {"axis": {"x": "independent", "y": "independent"}},
          "layer": [
            {"data": {"name": "curves"}, "transform": [{"filter": {"and": [{"field": "p", "equal": "A"}, {"field": "s", "oneOf": ["gas", "water"]}]}}],
             "mark": {"type": "line", "color": "black", "strokeWidth": 2, "interpolate": "monotone"},
             "encoding": {
               "x": {"field": "x", "type": "quantitative", "scale": {"domain": [1, 9], "nice": false}, "axis": {"title": "Frequency (log(Hz))", "values": [1,2,3,4,5,6,7,8,9]}},
               "y": {"field": "y", "type": "quantitative", "scale": {"domain": [-10, 160], "nice": false}, "axis": {"title": "1000 /Qₚ", "values": [0,50,100,150]}},
               "strokeDash": {"field": "s", "type": "nominal", "scale": {"domain": ["gas", "water"], "range": [[2,2],[1,0]]}, "legend": {"title": null, "symbolType": "M-1,0H4.4", "labelExpr": "datum.label == 'gas' ? 'Full gas prediction' : 'Full water prediction'"}}}},
            {"data": {"name": "curves"}, "transform": [{"filter": {"and": [{"field": "p", "equal": "A"}, {"field": "s", "oneOf": ["20", "60", "40", "80"]}]}}],
             "mark": {"type": "line", "strokeWidth": 2.5, "strokeDash": [8,5], "interpolate": "monotone"},
             "encoding": {
               "x": {"field": "x", "type": "quantitative", "scale": {"domain": [1, 9], "nice": false}, "axis": null},
               "y": {"field": "y", "type": "quantitative", "scale": {"domain": [-10, 160], "nice": false}, "axis": null},
               "color": {"field": "s", "type": "nominal", "scale": {"domain": ["gas","water","80","60","40","20"], "range": ["#000000","#000000","#00dd00","#0000e0","#ff0000","#ff00ff"]}, "legend": null}}},
            {"data": {"name": "obs"}, "transform": [{"filter": {"field": "p", "equal": "A"}}],
             "mark": {"type": "point", "shape": "circle", "filled": false, "size": 64, "strokeWidth": 2, "opacity": 1},
             "encoding": {
               "x": {"field": "x", "type": "quantitative", "scale": {"domain": [1, 9], "nice": false}, "axis": null},
               "y": {"field": "y", "type": "quantitative", "scale": {"domain": [-10, 160], "nice": false}, "axis": null},
               "color": {"field": "s", "type": "nominal", "scale": {"domain": ["gas","water","80","60","40","20"], "range": ["#000000","#000000","#00dd00","#0000e0","#ff0000","#ff00ff"]}, "legend": null}}},
            {"data": {"name": "obs"}, "transform": [{"filter": {"field": "p", "equal": "A"}}],
             "mark": {"type": "point", "opacity": 0},
             "encoding": {
               "x": {"field": "x", "type": "quantitative", "scale": {"domain": [1, 9], "nice": false}, "axis": {"orient": "top", "labels": false, "title": null, "values": [1,2,3,4,5,6,7,8,9]}},
               "y": {"field": "y", "type": "quantitative", "scale": {"domain": [-10, 160], "nice": false}, "axis": {"orient": "right", "labels": false, "title": null, "values": [0,50,100,150]}}}}
          ]
        },
        {
          "width": 378, "height": 208, "title": {"text": "B"},
          "resolve": {"axis": {"x": "independent", "y": "independent"}},
          "layer": [
            {"data": {"name": "curves"}, "transform": [{"filter": {"and": [{"field": "p", "equal": "B"}, {"field": "s", "oneOf": ["gas", "water"]}]}}],
             "mark": {"type": "line", "color": "black", "strokeWidth": 2, "interpolate": "monotone"},
             "encoding": {
               "x": {"field": "x", "type": "quantitative", "scale": {"domain": [1, 9], "nice": false}, "axis": {"title": "Frequency (log(Hz))", "values": [1,2,3,4,5,6,7,8,9]}},
               "y": {"field": "y", "type": "quantitative", "scale": {"domain": [-10, 120], "nice": false}, "axis": {"title": "1000 /Qₚ", "values": [0,20,40,60,80,100,120]}},
               "strokeDash": {"field": "s", "type": "nominal", "scale": {"domain": ["gas", "water"], "range": [[2,2],[1,0]]}, "legend": {"title": null, "symbolType": "M-1,0H4.4", "labelExpr": "datum.label == 'gas' ? 'Full gas prediction' : 'Full water prediction'"}}}},
            {"data": {"name": "curves"}, "transform": [{"filter": {"and": [{"field": "p", "equal": "B"}, {"field": "s", "oneOf": ["20", "60", "40", "80"]}]}}],
             "mark": {"type": "line", "strokeWidth": 2.5, "strokeDash": [8,5], "interpolate": "monotone"},
             "encoding": {
               "x": {"field": "x", "type": "quantitative", "scale": {"domain": [1, 9], "nice": false}, "axis": null},
               "y": {"field": "y", "type": "quantitative", "scale": {"domain": [-10, 120], "nice": false}, "axis": null},
               "color": {"field": "s", "type": "nominal", "scale": {"domain": ["gas","water","80","60","40","20"], "range": ["#000000","#000000","#00dd00","#0000e0","#ff0000","#ff00ff"]}, "legend": null}}},
            {"data": {"name": "obs"}, "transform": [{"filter": {"field": "p", "equal": "B"}}],
             "mark": {"type": "point", "shape": "circle", "filled": false, "size": 64, "strokeWidth": 2, "opacity": 1},
             "encoding": {
               "x": {"field": "x", "type": "quantitative", "scale": {"domain": [1, 9], "nice": false}, "axis": null},
               "y": {"field": "y", "type": "quantitative", "scale": {"domain": [-10, 120], "nice": false}, "axis": null},
               "color": {"field": "s", "type": "nominal", "scale": {"domain": ["gas","water","80","60","40","20"], "range": ["#000000","#000000","#00dd00","#0000e0","#ff0000","#ff00ff"]}, "legend": null}}},
            {"data": {"name": "obs"}, "transform": [{"filter": {"field": "p", "equal": "B"}}],
             "mark": {"type": "point", "opacity": 0},
             "encoding": {
               "x": {"field": "x", "type": "quantitative", "scale": {"domain": [1, 9], "nice": false}, "axis": {"orient": "top", "labels": false, "title": null, "values": [1,2,3,4,5,6,7,8,9]}},
               "y": {"field": "y", "type": "quantitative", "scale": {"domain": [-10, 120], "nice": false}, "axis": {"orient": "right", "labels": false, "title": null, "values": [0,20,40,60,80,100,120]}}}}
          ]
        }
      ]
    },
    {
      "spacing": 36,
      "resolve": {"scale": {"strokeDash": "independent"}, "legend": {"strokeDash": "independent"}},
      "hconcat": [
        {
          "width": 378, "height": 208, "title": {"text": "C"},
          "resolve": {"axis": {"x": "independent", "y": "independent"}},
          "layer": [
            {"data": {"name": "curves"}, "transform": [{"filter": {"and": [{"field": "p", "equal": "C"}, {"field": "s", "oneOf": ["gas", "water"]}]}}],
             "mark": {"type": "line", "color": "black", "strokeWidth": 2, "interpolate": "monotone"},
             "encoding": {
               "x": {"field": "x", "type": "quantitative", "scale": {"domain": [1, 9], "nice": false}, "axis": {"title": "Frequency (log(Hz))", "values": [1,2,3,4,5,6,7,8,9]}},
               "y": {"field": "y", "type": "quantitative", "scale": {"domain": [-10, 100], "nice": false}, "axis": {"title": "1000 /Qₚ", "values": [0,20,40,60,80,100]}},
               "strokeDash": {"field": "s", "type": "nominal", "scale": {"domain": ["gas", "water"], "range": [[2,2],[1,0]]}, "legend": {"title": null, "symbolType": "M-1,0H4.4", "labelExpr": "datum.label == 'gas' ? 'Full gas prediction' : 'Full water prediction'"}}}},
            {"data": {"name": "curves"}, "transform": [{"filter": {"and": [{"field": "p", "equal": "C"}, {"field": "s", "oneOf": ["20", "60", "40", "80"]}]}}],
             "mark": {"type": "line", "strokeWidth": 2.5, "strokeDash": [8,5], "interpolate": "monotone"},
             "encoding": {
               "x": {"field": "x", "type": "quantitative", "scale": {"domain": [1, 9], "nice": false}, "axis": null},
               "y": {"field": "y", "type": "quantitative", "scale": {"domain": [-10, 100], "nice": false}, "axis": null},
               "color": {"field": "s", "type": "nominal", "scale": {"domain": ["gas","water","80","60","40","20"], "range": ["#000000","#000000","#00dd00","#0000e0","#ff0000","#ff00ff"]}, "legend": null}}},
            {"data": {"name": "obs"}, "transform": [{"filter": {"field": "p", "equal": "C"}}],
             "mark": {"type": "point", "shape": "circle", "filled": false, "size": 64, "strokeWidth": 2, "opacity": 1},
             "encoding": {
               "x": {"field": "x", "type": "quantitative", "scale": {"domain": [1, 9], "nice": false}, "axis": null},
               "y": {"field": "y", "type": "quantitative", "scale": {"domain": [-10, 100], "nice": false}, "axis": null},
               "color": {"field": "s", "type": "nominal", "scale": {"domain": ["gas","water","80","60","40","20"], "range": ["#000000","#000000","#00dd00","#0000e0","#ff0000","#ff00ff"]}, "legend": null}}},
            {"data": {"name": "obs"}, "transform": [{"filter": {"field": "p", "equal": "C"}}],
             "mark": {"type": "point", "opacity": 0},
             "encoding": {
               "x": {"field": "x", "type": "quantitative", "scale": {"domain": [1, 9], "nice": false}, "axis": {"orient": "top", "labels": false, "title": null, "values": [1,2,3,4,5,6,7,8,9]}},
               "y": {"field": "y", "type": "quantitative", "scale": {"domain": [-10, 100], "nice": false}, "axis": {"orient": "right", "labels": false, "title": null, "values": [0,20,40,60,80,100]}}}}
          ]
        },
        {
          "width": 378, "height": 208, "title": {"text": "D"},
          "resolve": {"axis": {"x": "independent", "y": "independent"}},
          "layer": [
            {"data": {"name": "curves"}, "transform": [{"filter": {"and": [{"field": "p", "equal": "D"}, {"field": "s", "oneOf": ["gas", "water"]}]}}],
             "mark": {"type": "line", "color": "black", "strokeWidth": 2, "interpolate": "monotone"},
             "encoding": {
               "x": {"field": "x", "type": "quantitative", "scale": {"domain": [1, 9], "nice": false}, "axis": {"title": "Frequency (log(Hz))", "values": [1,2,3,4,5,6,7,8,9]}},
               "y": {"field": "y", "type": "quantitative", "scale": {"domain": [-10, 80], "nice": false}, "axis": {"title": "1000 /Qₚ", "values": [0,20,40,60,80]}},
               "strokeDash": {"field": "s", "type": "nominal", "scale": {"domain": ["gas", "water"], "range": [[2,2],[1,0]]}, "legend": {"title": null, "symbolType": "M-1,0H4.4", "labelExpr": "datum.label == 'gas' ? 'Full gas prediction' : 'Full water prediction'"}}}},
            {"data": {"name": "curves"}, "transform": [{"filter": {"and": [{"field": "p", "equal": "D"}, {"field": "s", "oneOf": ["20", "60", "40", "80"]}]}}],
             "mark": {"type": "line", "strokeWidth": 2.5, "strokeDash": [8,5], "interpolate": "monotone"},
             "encoding": {
               "x": {"field": "x", "type": "quantitative", "scale": {"domain": [1, 9], "nice": false}, "axis": null},
               "y": {"field": "y", "type": "quantitative", "scale": {"domain": [-10, 80], "nice": false}, "axis": null},
               "color": {"field": "s", "type": "nominal", "scale": {"domain": ["gas","water","80","60","40","20"], "range": ["#000000","#000000","#00dd00","#0000e0","#ff0000","#ff00ff"]}, "legend": null}}},
            {"data": {"name": "obs"}, "transform": [{"filter": {"field": "p", "equal": "D"}}],
             "mark": {"type": "point", "shape": "circle", "filled": false, "size": 64, "strokeWidth": 2, "opacity": 1},
             "encoding": {
               "x": {"field": "x", "type": "quantitative", "scale": {"domain": [1, 9], "nice": false}, "axis": null},
               "y": {"field": "y", "type": "quantitative", "scale": {"domain": [-10, 80], "nice": false}, "axis": null},
               "color": {"field": "s", "type": "nominal", "scale": {"domain": ["gas","water","80","60","40","20"], "range": ["#000000","#000000","#00dd00","#0000e0","#ff0000","#ff00ff"]}, "legend": null}}},
            {"data": {"name": "obs"}, "transform": [{"filter": {"field": "p", "equal": "D"}}],
             "mark": {"type": "point", "opacity": 0},
             "encoding": {
               "x": {"field": "x", "type": "quantitative", "scale": {"domain": [1, 9], "nice": false}, "axis": {"orient": "top", "labels": false, "title": null, "values": [1,2,3,4,5,6,7,8,9]}},
               "y": {"field": "y", "type": "quantitative", "scale": {"domain": [-10, 80], "nice": false}, "axis": {"orient": "right", "labels": false, "title": null, "values": [0,20,40,60,80]}}}}
          ]
        }
      ]
    },
    {
      "spacing": 44,
      "resolve": {"scale": {"strokeDash": "independent"}, "legend": {"strokeDash": "independent"}},
      "hconcat": [
        {
          "width": 378, "height": 208, "title": {"text": "E"},
          "resolve": {"axis": {"x": "independent", "y": "independent"}},
          "layer": [
            {"data": {"name": "curves"}, "transform": [{"filter": {"and": [{"field": "p", "equal": "E"}, {"field": "s", "oneOf": ["gas", "water"]}]}}],
             "mark": {"type": "line", "color": "black", "strokeWidth": 2, "interpolate": "monotone"},
             "encoding": {
               "x": {"field": "x", "type": "quantitative", "scale": {"domain": [1, 9], "nice": false}, "axis": {"title": "Frequency (log(Hz))", "values": [1,2,3,4,5,6,7,8,9]}},
               "y": {"field": "y", "type": "quantitative", "scale": {"domain": [-10, 80], "nice": false}, "axis": {"title": "1000 /Qₚ", "values": [0,20,40,60,80]}},
               "strokeDash": {"field": "s", "type": "nominal", "scale": {"domain": ["gas", "water"], "range": [[2,2],[1,0]]}, "legend": {"title": null, "symbolType": "M-1,0H4.4", "labelExpr": "datum.label == 'gas' ? 'Full gas prediction' : 'Full water prediction'"}}}},
            {"data": {"name": "curves"}, "transform": [{"filter": {"and": [{"field": "p", "equal": "E"}, {"field": "s", "oneOf": ["20", "60", "40", "80"]}]}}],
             "mark": {"type": "line", "strokeWidth": 2.5, "strokeDash": [8,5], "interpolate": "monotone"},
             "encoding": {
               "x": {"field": "x", "type": "quantitative", "scale": {"domain": [1, 9], "nice": false}, "axis": null},
               "y": {"field": "y", "type": "quantitative", "scale": {"domain": [-10, 80], "nice": false}, "axis": null},
               "color": {"field": "s", "type": "nominal", "scale": {"domain": ["gas","water","80","60","40","20"], "range": ["#000000","#000000","#00dd00","#0000e0","#ff0000","#ff00ff"]}, "legend": null}}},
            {"data": {"name": "obs"}, "transform": [{"filter": {"field": "p", "equal": "E"}}],
             "mark": {"type": "point", "shape": "circle", "filled": false, "size": 64, "strokeWidth": 2, "opacity": 1},
             "encoding": {
               "x": {"field": "x", "type": "quantitative", "scale": {"domain": [1, 9], "nice": false}, "axis": null},
               "y": {"field": "y", "type": "quantitative", "scale": {"domain": [-10, 80], "nice": false}, "axis": null},
               "color": {"field": "s", "type": "nominal", "scale": {"domain": ["gas","water","80","60","40","20"], "range": ["#000000","#000000","#00dd00","#0000e0","#ff0000","#ff00ff"]}, "legend": null}}},
            {"data": {"name": "obs"}, "transform": [{"filter": {"field": "p", "equal": "E"}}],
             "mark": {"type": "point", "opacity": 0},
             "encoding": {
               "x": {"field": "x", "type": "quantitative", "scale": {"domain": [1, 9], "nice": false}, "axis": {"orient": "top", "labels": false, "title": null, "values": [1,2,3,4,5,6,7,8,9]}},
               "y": {"field": "y", "type": "quantitative", "scale": {"domain": [-10, 80], "nice": false}, "axis": {"orient": "right", "labels": false, "title": null, "values": [0,20,40,60,80]}}}}
          ]
        },
        {
          "width": 378, "height": 208, "title": {"text": "F"},
          "resolve": {"axis": {"x": "independent", "y": "independent"}},
          "layer": [
            {"data": {"name": "curves"}, "transform": [{"filter": {"and": [{"field": "p", "equal": "F"}, {"field": "s", "oneOf": ["gas", "water"]}]}}],
             "mark": {"type": "line", "color": "black", "strokeWidth": 2, "interpolate": "monotone"},
             "encoding": {
               "x": {"field": "x", "type": "quantitative", "scale": {"domain": [1, 9], "nice": false}, "axis": {"title": "Frequency (log(Hz))", "values": [1,2,3,4,5,6,7,8,9]}},
               "y": {"field": "y", "type": "quantitative", "scale": {"domain": [-10, 60], "nice": false}, "axis": {"title": "1000 /Qₚ", "values": [-10,0,10,20,30,40,50,60]}},
               "strokeDash": {"field": "s", "type": "nominal", "scale": {"domain": ["gas", "water"], "range": [[2,2],[1,0]]}, "legend": {"title": null, "symbolType": "M-1,0H4.4", "labelExpr": "datum.label == 'gas' ? 'Full gas prediction' : 'Full water prediction'"}}}},
            {"data": {"name": "curves"}, "transform": [{"filter": {"and": [{"field": "p", "equal": "F"}, {"field": "s", "oneOf": ["20", "60", "40", "80"]}]}}],
             "mark": {"type": "line", "strokeWidth": 2.5, "strokeDash": [8,5], "interpolate": "monotone"},
             "encoding": {
               "x": {"field": "x", "type": "quantitative", "scale": {"domain": [1, 9], "nice": false}, "axis": null},
               "y": {"field": "y", "type": "quantitative", "scale": {"domain": [-10, 60], "nice": false}, "axis": null},
               "color": {"field": "s", "type": "nominal", "scale": {"domain": ["gas","water","80","60","40","20"], "range": ["#000000","#000000","#00dd00","#0000e0","#ff0000","#ff00ff"]}, "legend": null}}},
            {"data": {"name": "obs"}, "transform": [{"filter": {"field": "p", "equal": "F"}}],
             "mark": {"type": "point", "shape": "circle", "filled": false, "size": 64, "strokeWidth": 2, "opacity": 1},
             "encoding": {
               "x": {"field": "x", "type": "quantitative", "scale": {"domain": [1, 9], "nice": false}, "axis": null},
               "y": {"field": "y", "type": "quantitative", "scale": {"domain": [-10, 60], "nice": false}, "axis": null},
               "color": {"field": "s", "type": "nominal", "scale": {"domain": ["gas","water","80","60","40","20"], "range": ["#000000","#000000","#00dd00","#0000e0","#ff0000","#ff00ff"]}, "legend": null}}},
            {"data": {"name": "obs"}, "transform": [{"filter": {"field": "p", "equal": "F"}}],
             "mark": {"type": "point", "opacity": 0},
             "encoding": {
               "x": {"field": "x", "type": "quantitative", "scale": {"domain": [1, 9], "nice": false}, "axis": {"orient": "top", "labels": false, "title": null, "values": [1,2,3,4,5,6,7,8,9]}},
               "y": {"field": "y", "type": "quantitative", "scale": {"domain": [-10, 60], "nice": false}, "axis": {"orient": "right", "labels": false, "title": null, "values": [-10,0,10,20,30,40,50,60]}}}}
          ]
        }
      ]
    },
    {
      "spacing": 36,
      "resolve": {"scale": {"strokeDash": "independent"}, "legend": {"strokeDash": "independent"}},
      "hconcat": [
        {
          "width": 378, "height": 208, "title": {"text": "G"},
          "resolve": {"axis": {"x": "independent", "y": "independent"}},
          "layer": [
            {"data": {"name": "curves"}, "transform": [{"filter": {"and": [{"field": "p", "equal": "G"}, {"field": "s", "oneOf": ["gas", "water"]}]}}],
             "mark": {"type": "line", "color": "black", "strokeWidth": 2, "interpolate": "monotone"},
             "encoding": {
               "x": {"field": "x", "type": "quantitative", "scale": {"domain": [1, 9], "nice": false}, "axis": {"title": "Frequency (log(Hz))", "values": [1,2,3,4,5,6,7,8,9]}},
               "y": {"field": "y", "type": "quantitative", "scale": {"domain": [-10, 60], "nice": false}, "axis": {"title": "1000 /Qₚ", "values": [-10,0,10,20,30,40,50,60]}},
               "strokeDash": {"field": "s", "type": "nominal", "scale": {"domain": ["gas", "water"], "range": [[2,2],[1,0]]}, "legend": {"title": null, "symbolType": "M-1,0H4.4", "labelExpr": "datum.label == 'gas' ? 'Full gas prediction' : 'Full water prediction'"}}}},
            {"data": {"name": "curves"}, "transform": [{"filter": {"and": [{"field": "p", "equal": "G"}, {"field": "s", "oneOf": ["20", "60", "40", "80"]}]}}],
             "mark": {"type": "line", "strokeWidth": 2.5, "strokeDash": [8,5], "interpolate": "monotone"},
             "encoding": {
               "x": {"field": "x", "type": "quantitative", "scale": {"domain": [1, 9], "nice": false}, "axis": null},
               "y": {"field": "y", "type": "quantitative", "scale": {"domain": [-10, 60], "nice": false}, "axis": null},
               "color": {"field": "s", "type": "nominal", "scale": {"domain": ["gas","water","80","60","40","20"], "range": ["#000000","#000000","#00dd00","#0000e0","#ff0000","#ff00ff"]}, "legend": null}}},
            {"data": {"name": "obs"}, "transform": [{"filter": {"field": "p", "equal": "G"}}],
             "mark": {"type": "point", "shape": "circle", "filled": false, "size": 64, "strokeWidth": 2, "opacity": 1},
             "encoding": {
               "x": {"field": "x", "type": "quantitative", "scale": {"domain": [1, 9], "nice": false}, "axis": null},
               "y": {"field": "y", "type": "quantitative", "scale": {"domain": [-10, 60], "nice": false}, "axis": null},
               "color": {"field": "s", "type": "nominal", "scale": {"domain": ["gas","water","80","60","40","20"], "range": ["#000000","#000000","#00dd00","#0000e0","#ff0000","#ff00ff"]}, "legend": null}}},
            {"data": {"name": "obs"}, "transform": [{"filter": {"field": "p", "equal": "G"}}],
             "mark": {"type": "point", "opacity": 0},
             "encoding": {
               "x": {"field": "x", "type": "quantitative", "scale": {"domain": [1, 9], "nice": false}, "axis": {"orient": "top", "labels": false, "title": null, "values": [1,2,3,4,5,6,7,8,9]}},
               "y": {"field": "y", "type": "quantitative", "scale": {"domain": [-10, 60], "nice": false}, "axis": {"orient": "right", "labels": false, "title": null, "values": [-10,0,10,20,30,40,50,60]}}}}
          ]
        },
        {
          "width": 378, "height": 208,
          "view": {"stroke": null},
          "data": {"name": "key"},
          "encoding": {"y": {"field": "label", "type": "nominal", "sort": null, "scale": {"type": "band", "paddingInner": 0, "paddingOuter": 0.667}, "axis": null}},
          "layer": [
            {"mark": {"type": "point", "shape": "circle", "filled": false, "size": 130, "strokeWidth": 3, "opacity": 1},
             "encoding": {
               "x": {"datum": 2.38, "type": "quantitative", "scale": {"domain": [0, 10], "nice": false}, "axis": null},
               "color": {"field": "s", "type": "nominal", "scale": {"domain": ["gas","water","80","60","40","20"], "range": ["#000000","#000000","#00dd00","#0000e0","#ff0000","#ff00ff"]}, "legend": null}}},
            {"mark": {"type": "rule", "strokeWidth": 2.5, "strokeDash": [8,6]},
             "encoding": {
               "x": {"datum": 3.33, "type": "quantitative", "scale": {"domain": [0, 10], "nice": false}, "axis": null},
               "x2": {"datum": 4.68},
               "color": {"field": "s", "type": "nominal", "scale": {"domain": ["gas","water","80","60","40","20"], "range": ["#000000","#000000","#00dd00","#0000e0","#ff0000","#ff00ff"]}, "legend": null}}},
            {"mark": {"type": "text", "align": "left", "baseline": "middle", "font": "Liberation Serif", "fontWeight": "bold", "fontSize": 15, "color": "black"},
             "encoding": {
               "x": {"datum": 5.34, "type": "quantitative", "scale": {"domain": [0, 10], "nice": false}, "axis": null},
               "text": {"field": "label"}}}
          ]
        }
      ]
    }
  ]
}
